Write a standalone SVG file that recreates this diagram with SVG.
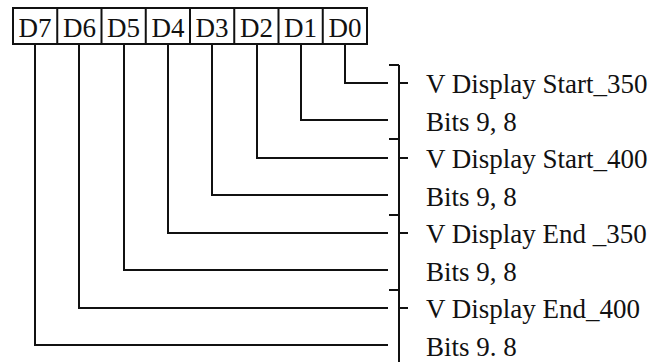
<svg xmlns="http://www.w3.org/2000/svg" width="668" height="362" viewBox="0 0 668 362">
<style>
.ln{fill:none;stroke:#111;stroke-width:2}
.t{font-family:"Liberation Serif","Times New Roman",serif;font-size:27px;fill:#111}
.c{text-anchor:middle}
</style>
<rect width="668" height="362" fill="#fff"/>
<g id="register">
<rect class="ln" x="13" y="8" width="354" height="36"/>
<path class="ln" d="M57.25 8V44M101.5 8V44M145.75 8V44M190 8V44M234.25 8V44M278.5 8V44M322.75 8V44"/>
<text class="t c" x="35.1" y="37">D7</text>
<text class="t c" x="79.4" y="37">D6</text>
<text class="t c" x="123.6" y="37">D5</text>
<text class="t c" x="167.9" y="37">D4</text>
<text class="t c" x="212.1" y="37">D3</text>
<text class="t c" x="256.4" y="37">D2</text>
<text class="t c" x="300.6" y="37">D1</text>
<text class="t c" x="344.9" y="37">D0</text>
</g>
<g id="connectors">
<path class="ln" d="M345 44V83H388"/>
<path class="ln" d="M301 44V120H388"/>
<path class="ln" d="M257 44V158H388"/>
<path class="ln" d="M212 44V195H388"/>
<path class="ln" d="M168 44V233H388"/>
<path class="ln" d="M124 44V270H388"/>
<path class="ln" d="M79 44V308H388"/>
<path class="ln" d="M35 44V345H388"/>
</g>
<g id="bracket">
<path class="ln" d="M399 65V362"/>
<path class="ln" d="M389 65H399M389 139H399M389 215H399M389 290H399"/>
<path class="ln" d="M399 83H408M399 158H408M399 233H408M399 308H408"/>
</g>
<g id="labels">
<text class="t" x="426" y="93">V Display Start_350</text>
<text class="t" x="426" y="131">Bits 9, 8</text>
<text class="t" x="426" y="168">V Display Start_400</text>
<text class="t" x="426" y="206">Bits 9, 8</text>
<text class="t" x="426" y="243">V Display End _350</text>
<text class="t" x="426" y="281">Bits 9, 8</text>
<text class="t" x="426" y="318">V Display End_400</text>
<text class="t" x="426" y="356">Bits 9. 8</text>
</g>
</svg>
